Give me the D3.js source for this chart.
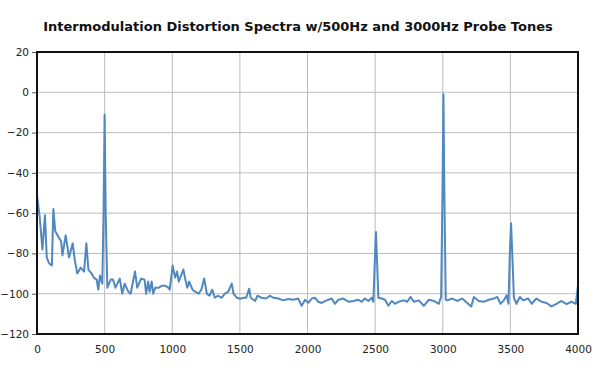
<!DOCTYPE html>
<html>
<head>
<meta charset="utf-8">
<script src="https://cdn.jsdelivr.net/npm/d3@7"></script>
<style>
  body { margin: 0; background: #fff; }
  .tick text { font-family: "DejaVu Sans", sans-serif; font-size: 10.5px; fill: #222; }
</style>
</head>
<body>
<div id="chart"></div>
<script>
// spectrum: frequency (Hz) and level (dB)
var freqs = [0, 20, 40, 59, 72, 90, 110, 121, 135, 160, 178, 188, 212, 237, 264, 281, 298, 323, 348, 365,
    380, 404, 420, 441, 453, 466, 483, 492, 500, 508, 520, 545, 562, 580, 612, 630, 648, 675, 692, 725,
    741, 770, 795, 807, 822, 833, 848, 859, 875, 900, 925, 947, 970, 981, 1003, 1021, 1036, 1048, 1082, 1097,
    1111, 1125, 1150, 1170, 1195, 1215, 1236, 1256, 1275, 1295, 1315, 1340, 1364, 1390, 1414, 1440, 1453, 1477, 1502, 1527,
    1547, 1569, 1580, 1613, 1630, 1660, 1693, 1723, 1747, 1784, 1821, 1858, 1895, 1932, 1957, 1982, 2006, 2031, 2055, 2080,
    2105, 2142, 2179, 2203, 2228, 2265, 2302, 2339, 2376, 2400, 2425, 2450, 2475, 2487, 2497, 2506, 2515, 2524, 2549, 2573,
    2598, 2623, 2647, 2672, 2712, 2738, 2761, 2786, 2823, 2860, 2897, 2934, 2971, 2988, 2998, 3005, 3012, 3022, 3033, 3070,
    3107, 3144, 3181, 3211, 3230, 3267, 3304, 3341, 3378, 3403, 3427, 3452, 3472, 3486, 3496, 3505, 3514, 3526, 3545, 3570,
    3595, 3632, 3657, 3693, 3730, 3767, 3804, 3841, 3878, 3915, 3952, 3984, 4000];
var levels = [-51, -62, -78, -61, -82, -85, -86, -58, -69, -72, -74, -81, -71, -82, -75, -84, -90, -87, -89, -75,
    -88, -90, -92, -93, -98, -91, -95, -60, -11, -60, -97, -93, -93, -97, -92.5, -100, -95, -99, -100, -89,
    -97, -92.5, -93, -100, -94, -99, -94, -100, -97, -97, -96, -96, -97, -98, -86, -92, -89, -94, -88, -93,
    -97, -94, -98, -99, -100, -98, -92.5, -100, -101, -98, -102, -101, -102, -100, -99, -95, -100, -102, -102.5, -102,
    -102, -97.5, -102, -103.6, -101, -102, -102.4, -101, -102, -102.4, -103.3, -102.6, -103, -102.4, -106, -103, -104.5, -102.4, -102, -104,
    -104.6, -103.3, -102.4, -105, -103, -102.4, -104, -103.6, -103, -104, -102.4, -103.6, -102, -104, -85, -69.4, -85, -102, -102.4, -103,
    -106, -103.6, -105, -104, -103.3, -104, -101.6, -104, -103.3, -106, -103, -103.6, -105, -101.6, -50, -1, -50, -103, -103.3, -102.4,
    -103.6, -102.4, -104.6, -106.3, -101.6, -103.6, -104, -103, -102.4, -101.6, -105, -103.3, -100.8, -105, -80, -65, -80, -102, -105, -101.6,
    -103.3, -102.4, -105, -102.4, -104, -104.6, -106.3, -105, -103.6, -105.2, -104, -105, -96];

var xTicks = [0, 500, 1000, 1500, 2000, 2500, 3000, 3500, 4000];
var yTicks = [20, 0, -20, -40, -60, -80, -100, -120];
var title = "Intermodulation Distortion Spectra w/500Hz and 3000Hz Probe Tones";

var width = 600, height = 373;
var margin = { top: 52, right: 22, bottom: 39, left: 37 };
var w = width - margin.left - margin.right;
var h = height - margin.top - margin.bottom;

var svg = d3.select("#chart").append("svg")
    .attr("width", width)
    .attr("height", height);

svg.append("text")
    .attr("x", 298)
    .attr("y", 31)
    .attr("text-anchor", "middle")
    .style("font-family", "'DejaVu Sans', sans-serif")
    .style("font-weight", "bold")
    .style("font-size", "13px")
    .style("fill", "#111")
    .text(title);

var g = svg.append("g").attr("transform", "translate(" + margin.left + "," + margin.top + ")");

var x = d3.scaleLinear().domain([0, 4000]).range([0, w]);
var y = d3.scaleLinear().domain([-120, 20]).range([h, 0]);

// grid
g.append("g").selectAll("line.vg").data(xTicks).enter().append("line")
    .attr("x1", d => x(d)).attr("x2", d => x(d))
    .attr("y1", 0).attr("y2", h)
    .style("stroke", "#bdbdbd").style("stroke-width", 1);
g.append("g").selectAll("line.hg").data(yTicks).enter().append("line")
    .attr("x1", 0).attr("x2", w)
    .attr("y1", d => y(d)).attr("y2", d => y(d))
    .style("stroke", "#bdbdbd").style("stroke-width", 1);

// axes
var xAxis = g.append("g").attr("transform", "translate(0," + h + ")")
    .call(d3.axisBottom(x).tickValues(xTicks).tickSize(0).tickPadding(12).tickFormat(d3.format("d")));
var yAxis = g.append("g")
    .call(d3.axisLeft(y).tickValues(yTicks).tickSize(5).tickPadding(3).tickFormat(d3.format("d")));
xAxis.select(".domain").remove();
yAxis.select(".domain").remove();
yAxis.selectAll(".tick line").style("stroke", "#555");

// spectrum line
var pts = freqs.map((f, i) => [f, levels[i]]);
var line = d3.line().x(d => x(d[0])).y(d => y(d[1]));
g.append("path")
    .datum(pts)
    .attr("d", line)
    .style("fill", "none")
    .style("stroke", "#5088bf")
    .style("stroke-width", 2)
    .style("stroke-linejoin", "round");

// frame
g.append("rect")
    .attr("x", 0).attr("y", 0).attr("width", w).attr("height", h)
    .style("fill", "none")
    .style("stroke", "#111")
    .style("stroke-width", 2);
</script>
</body>
</html>
